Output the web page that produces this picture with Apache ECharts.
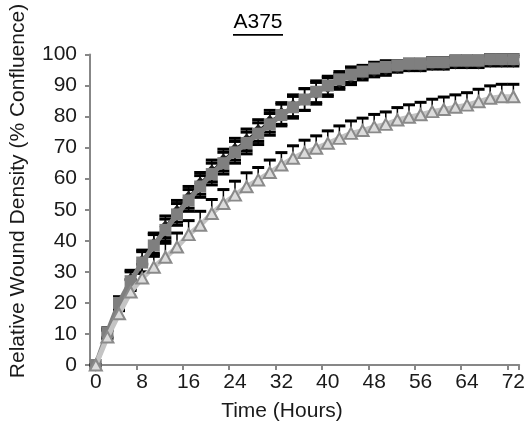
<!DOCTYPE html>
<html>
<head>
<meta charset="utf-8">
<script src="https://cdn.jsdelivr.net/npm/echarts@6/dist/echarts.min.js"></script>
<style>
  html, body { margin: 0; padding: 0; background: #fff; }
  #chart { width: 528px; height: 441px; }
</style>
</head>
<body>
<div id="chart"></div>
<script>
// Time points (hours)
const hours = ['0','2','4','6','8','10','12','14','16','18','20','22','24','26','28','30','32','34','36',
               '38','40','42','44','46','48','50','52','54','56','58','60','62','64','66','68','70','72'];

// Relative wound density (% confluence) per condition
const diamondVals = [0,10,19.5,27.5,33.5,39,44.5,49.5,54,58.5,62.5,66,69.5,72.5,75.5,78.5,81,83.5,85.5,
                     87.5,89.5,91.3,92.8,93.8,94.8,95.3,95.8,96.3,96.3,96.8,96.8,97.3,97.3,97.3,97.8,97.8,97.8];
const squareVals  = [0,10.5,20,27,33,38.5,43.5,48.5,53,57.5,61.5,65,68.5,71.5,74.5,77.5,80.5,83,85.5,
                     88,90,92,93.5,94.5,95.5,96,96.5,97,97,97.5,97.5,98,98,98,98.5,98.5,98.5];
const triangleVals = [0,9,16.5,23.5,28,31.5,34.7,38,42,45,48.8,52,54.7,57.4,59.6,62,64.4,66.6,68.4,
                      69.8,71.4,73,74.6,75.5,76.7,77.5,78.9,79.8,80.6,81.6,82.3,83,83.7,84.8,85.9,86.4,86.4];

// Standard errors
const diamondErr = [0,1.5,2,3,3.5,3.5,3.5,3.5,3.5,3.5,3.5,3.5,3.5,3.5,3.5,3.5,3.5,3.5,3.5,
                    3.5,3,2.5,2.5,2,2,2,1.5,1.5,1.5,1.5,1.5,1.5,1.5,1.5,1.5,1.5,1.5];
const squareErr  = [0,1.5,2,3,3.5,3.5,3.5,3.5,3.5,3.5,3.5,3.5,3.5,3.5,3.5,3.5,3.5,3.5,3.5,
                    3.5,3,2.5,2.5,2,2,2,1.5,1.5,1.5,1.5,1.5,1.5,1.5,1.5,1.5,1.5,1.5];
const triangleErr = [0,2,3,4,4.5,4.5,4.5,4.5,4.5,4.5,4.5,4.5,4.5,4.5,4,4,4,4,4,
                     4,4,4,4,4,4,4,4,4,4,4,4,4,4,4,4,4,4];

const FONT = '"Liberation Sans", Arial, sans-serif';

function errorBarSeries(vals, errs, both, z) {
  return {
    type: 'custom',
    z: z,
    silent: true,
    data: vals.map((v, i) => [i, both ? v - errs[i] : v, v + errs[i]]),
    encode: { x: 0, y: [1, 2] },
    renderItem: function (params, api) {
      const i = api.value(0);
      const lo = api.coord([i, api.value(1)]);
      const hi = api.coord([i, api.value(2)]);
      const half = 6;
      const style = { stroke: '#000', lineWidth: 1.5 };
      const capStyle = { stroke: '#000', lineWidth: 3 };
      const children = [
        { type: 'line', shape: { x1: lo[0], y1: lo[1], x2: hi[0], y2: hi[1] }, style: style },
        { type: 'line', shape: { x1: hi[0] - half, y1: hi[1], x2: hi[0] + half, y2: hi[1] }, style: capStyle }
      ];
      if (both) {
        children.push({ type: 'line', shape: { x1: lo[0] - half, y1: lo[1], x2: lo[0] + half, y2: lo[1] }, style: capStyle });
      }
      return { type: 'group', children: children };
    }
  };
}

const chart = echarts.init(document.getElementById('chart'));
chart.setOption({
  animation: false,
  backgroundColor: '#fff',
  grid: { left: 90, right: 5, top: 54.5, bottom: 76, containLabel: false },
  xAxis: {
    type: 'category',
    data: hours,
    boundaryGap: true,
    axisLine: { lineStyle: { color: '#878787', width: 2 } },
    axisTick: { show: true, interval: 3, length: 5, lineStyle: { color: '#878787', width: 2 } },
    axisLabel: { interval: 3, margin: 7, color: '#1a1a1a', fontFamily: FONT, fontSize: 21 },
    splitLine: { show: false }
  },
  yAxis: {
    type: 'value',
    min: 0, max: 100, interval: 10,
    axisLine: { show: true, lineStyle: { color: '#878787', width: 2 } },
    axisTick: { show: true, length: 5, lineStyle: { color: '#878787', width: 2 } },
    axisLabel: { margin: 13, color: '#1a1a1a', fontFamily: FONT, fontSize: 21 },
    splitLine: { show: false }
  },
  graphic: [
    { type: 'text', x: 258, y: 22, style: {
        text: 'A375', align: 'center', verticalAlign: 'middle',
        font: '21px ' + FONT, fill: '#000' } },
    { type: 'rect', shape: { x: 233, y: 34, width: 50, height: 1.8 }, style: { fill: '#000' } },
    { type: 'text', x: 282, y: 411, style: {
        text: 'Time (Hours)', align: 'center', verticalAlign: 'middle',
        font: '21px ' + FONT, fill: '#1a1a1a' } },
    { type: 'text', x: 18, y: 191, rotation: Math.PI / 2, style: {
        text: 'Relative Wound Density (% Confluence)', align: 'center', verticalAlign: 'middle',
        font: '21px ' + FONT, fill: '#1a1a1a' } }
  ],
  series: [
    errorBarSeries(diamondVals, diamondErr, true, 1),
    errorBarSeries(squareVals, squareErr, true, 1),
    errorBarSeries(triangleVals, triangleErr, false, 1),
    {
      type: 'line', data: diamondVals, z: 2,
      symbol: 'diamond', symbolSize: [12, 13], showAllSymbol: true,
      lineStyle: { color: '#1e1e1e', width: 2 },
      itemStyle: { color: '#1e1e1e', borderWidth: 0 }
    },
    {
      type: 'line', data: squareVals, z: 3,
      symbol: 'rect', symbolSize: 12, showAllSymbol: true,
      lineStyle: { color: '#7f7f7f', width: 5 },
      itemStyle: { color: '#7f7f7f', borderWidth: 0 }
    },
    {
      type: 'line', data: triangleVals, z: 4,
      symbol: 'triangle', symbolSize: [12, 11], showAllSymbol: true,
      lineStyle: { color: '#c4c4c4', width: 5 },
      itemStyle: { color: '#dcdcdc', borderColor: '#8a8a8a', borderWidth: 2 }
    }
  ]
});
</script>
</body>
</html>
